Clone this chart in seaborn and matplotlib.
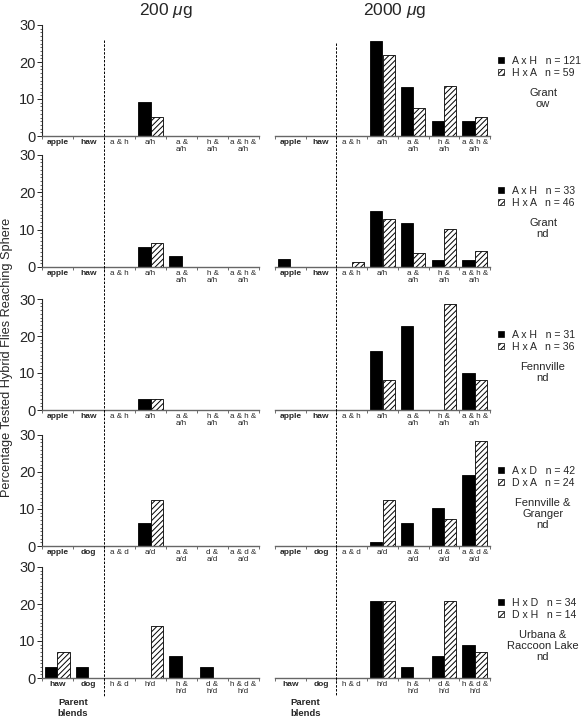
import numpy as np
import pandas as pd
import matplotlib
matplotlib.use("Agg")
from matplotlib import pyplot as plt
from matplotlib.lines import Line2D
from matplotlib.patches import Patch
from matplotlib.transforms import blended_transform_factory
import seaborn as sns

# ---- data (percent of tested flies reaching sphere) ----
cats_ah = ["apple", "haw", "a & h", "a/h", "a &\na/h", "h &\na/h", "a & h &\na/h"]
cats_ad = ["apple", "dog", "a & d", "a/d", "a &\na/d", "d &\na/d", "a & d &\na/d"]
cats_hd = ["haw", "dog", "h & d", "h/d", "h &\nh/d", "d &\nh/d", "h & d &\nh/d"]

doses = ["200 $\\mu$g", "2000 $\\mu$g"]

sites = ["Grant\now", "Grant\nnd", "Fennville\nnd", "Fennville &\nGranger\nnd",
         "Urbana &\nRaccoon Lake\nnd"]
crosses = [["A x H", "H x A"], ["A x H", "H x A"], ["A x H", "H x A"],
           ["A x D", "D x A"], ["H x D", "D x H"]]
n_flies = [[121, 59], [33, 46], [31, 36], [42, 24], [34, 14]]
row_cats = [cats_ah, cats_ah, cats_ah, cats_ad, cats_hd]

# [row][dose][cross]
grant_ow_200 = [[0, 0, 0, 9.1, 0, 0, 0], [0, 0, 0, 5.1, 0, 0, 0]]
grant_ow_2000 = [[0, 0, 0, 25.6, 13.2, 4.1, 4.1], [0, 0, 0, 22.0, 7.6, 13.5, 5.1]]
grant_nd_200 = [[0, 0, 0, 5.4, 3.0, 0, 0], [0, 0, 0, 6.3, 0, 0, 0]]
grant_nd_2000 = [[2.2, 0, 0, 15.0, 11.9, 1.9, 1.9], [0, 0, 1.3, 12.8, 3.7, 10.3, 4.3]]
fenn_200 = [[0, 0, 0, 2.9, 0, 0, 0], [0, 0, 0, 2.9, 0, 0, 0]]
fenn_2000 = [[0, 0, 0, 16.0, 22.6, 0, 9.9], [0, 0, 0, 8.1, 0, 28.6, 8.1]]
fg_200 = [[0, 0, 0, 6.2, 0, 0, 0], [0, 0, 0, 12.5, 0, 0, 0]]
fg_2000 = [[0, 0, 0, 1.2, 6.1, 10.3, 19.3], [0, 0, 0, 12.4, 0, 7.3, 28.4]]
urb_200 = [[3.0, 3.0, 0, 0, 5.9, 2.9, 0], [7.0, 0, 0, 14.0, 0, 0, 0]]
urb_2000 = [[0, 0, 0, 20.9, 2.9, 5.9, 8.8], [0, 0, 0, 20.9, 0, 20.9, 7.1]]

values = [[grant_ow_200, grant_ow_2000], [grant_nd_200, grant_nd_2000],
          [fenn_200, fenn_2000], [fg_200, fg_2000], [urb_200, urb_2000]]

# ---- style ----
sns.set_style("ticks")
plt.rcParams["font.family"] = ["Liberation Sans", "DejaVu Sans"]
plt.rcParams["mathtext.fontset"] = "custom"
plt.rcParams["mathtext.it"] = "Liberation Sans:italic"
plt.rcParams["mathtext.rm"] = "Liberation Sans"
plt.rcParams["hatch.linewidth"] = 0.7

W, H = 582, 718
fig = plt.figure(figsize=(W / 100, H / 100), dpi=100)

# layout in pixels
col_x = [(42, 259), (275, 490)]
row_y = [(25, 136), (155, 267), (299, 410), (435, 546), (567, 678)]


def fx(px):
    return px / W


def fy(py):
    return 1 - py / H


axes = []
for r in range(5):
    row_axes = []
    for c in range(2):
        x0, x1 = col_x[c]
        y0, y1 = row_y[r]
        ax = fig.add_axes([fx(x0), fy(y1), fx(x1 - x0), (y1 - y0) / H])
        cats = row_cats[r]
        df = pd.DataFrame({
            "category": cats * 2,
            "pct": values[r][c][0] + values[r][c][1],
            "cross": [crosses[r][0]] * 7 + [crosses[r][1]] * 7,
        })
        sns.barplot(data=df, x="category", y="pct", hue="cross", order=cats,
                    hue_order=crosses[r], palette=["black", "white"],
                    edgecolor="black", linewidth=0.6, saturation=1,
                    width=0.8, legend=False, ax=ax)
        for bar in ax.containers[1]:
            bar.set_hatch("//////")
        ax.set_xlim(-0.5, 6.5)
        ax.set_ylim(0, 30)
        ax.set_xlabel("")
        ax.set_ylabel("")
        ax.set_xticks(range(7))
        ax.set_xticklabels(cats, fontsize=5.8, linespacing=1.1)
        for lbl in ax.get_xticklabels()[:2]:
            lbl.set_fontweight("bold")
            lbl.set_fontsize(6)
        ax.set_xticks(np.arange(-0.5, 7, 1), minor=True)
        ax.tick_params(axis="x", which="major", length=0, pad=2)
        ax.tick_params(axis="x", which="minor", length=2.5, width=0.6,
                       direction="out", color="#555555")
        ax.spines["top"].set_visible(False)
        ax.spines["right"].set_visible(False)
        ax.spines["bottom"].set_color("#666666")
        ax.spines["bottom"].set_linewidth(1.0)
        if c == 0:
            ax.set_yticks([0, 10, 20, 30])
            ax.set_yticks(np.arange(0, 31, 1), minor=True)
            ax.tick_params(axis="y", which="major", length=3.5, width=0.7,
                           labelsize=10.5, pad=1)
            ax.tick_params(axis="y", which="minor", length=1.8, width=0.5)
            ax.spines["left"].set_linewidth(0.8)
        else:
            ax.spines["left"].set_visible(False)
            ax.set_yticks([])
        ax.set_facecolor("none")
        row_axes.append(ax)
    axes.append(row_axes)

    # legend and site label to the right
    handles = [Patch(facecolor="black", edgecolor="black", linewidth=0.5),
               Patch(facecolor="white", edgecolor="black", hatch="//////",
                     linewidth=0.5)]
    labels = [f"{crosses[r][k]}   n = {n_flies[r][k]}" for k in range(2)]
    top = row_y[r][0]
    leg = row_axes[1].legend(handles, labels, loc="upper left",
                             bbox_to_anchor=(fx(498), fy(top + 31)),
                             bbox_transform=fig.transFigure, frameon=False,
                             fontsize=7.6, handlelength=0.55, handleheight=0.55,
                             handletextpad=0.75, labelspacing=0.15,
                             borderpad=0, borderaxespad=0)
    fig.text(fx(543), fy(top + 63), sites[r], ha="center", va="top",
             fontsize=8, linespacing=1.15)

# dashed separators between parent and hybrid blends
for c in range(2):
    ax = axes[0][c]
    tr = blended_transform_factory(ax.transData, fig.transFigure)
    y_top = 40 if c == 0 else 43
    fig.add_artist(Line2D([1.5, 1.5], [fy(y_top), fy(696)], transform=tr,
                          color="black", linestyle=(0, (2.5, 1.5)),
                          linewidth=0.7))
    # "Parent blends" under the bottom row
    axb = axes[4][c]
    trb = blended_transform_factory(axb.transData, fig.transFigure)
    fig.text(0.5, fy(708), "Parent\nblends", transform=trb, ha="center",
             va="center", fontsize=6.8, fontweight="bold", linespacing=1.2)

# dose titles
fig.text(fx(166), fy(10), doses[0], ha="center", va="center", fontsize=12.5)
fig.text(fx(395), fy(10), doses[1], ha="center", va="center", fontsize=12.5)

fig.text(fx(7), fy(357), "Percentage Tested Hybrid Flies Reaching Sphere",
         rotation=90, ha="center", va="center", fontsize=9.2)

fig.savefig("out.png", dpi=100)
